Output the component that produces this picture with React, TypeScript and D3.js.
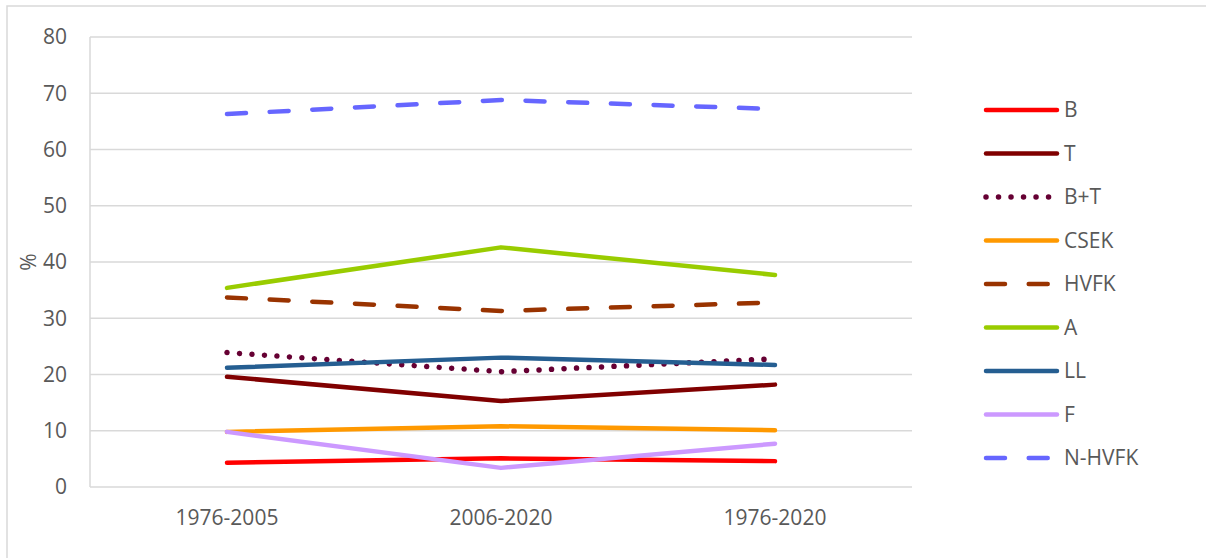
import React from "react";
import * as d3 from "d3";

const categories = ["1976-2005", "2006-2020", "1976-2020"];
const yTicks = [0, 10, 20, 30, 40, 50, 60, 70, 80];

const seriesNames = ["B", "T", "B+T", "CSEK", "HVFK", "A", "LL", "F", "N-HVFK"];
const valuesB = [4.3, 5.1, 4.6];
const valuesT = [19.6, 15.3, 18.2];
const valuesBT = [23.9, 20.5, 22.8];
const valuesCSEK = [9.8, 10.8, 10.1];
const valuesHVFK = [33.7, 31.3, 32.8];
const valuesA = [35.4, 42.6, 37.7];
const valuesLL = [21.2, 23.0, 21.7];
const valuesF = [9.8, 3.4, 7.7];
const valuesNHVFK = [66.3, 68.8, 67.2];

const seriesColors = ["#FF0000", "#800000", "#660033", "#FF9900", "#993300", "#99CC00", "#255E91", "#CC99FF", "#6666FF"];
const seriesStyles = ["solid", "solid", "dot", "solid", "dash", "solid", "solid", "solid", "dash"];

const allValues = [valuesB, valuesT, valuesBT, valuesCSEK, valuesHVFK, valuesA, valuesLL, valuesF, valuesNHVFK];
const drawOrder = [0, 1, 2, 3, 4, 5, 6, 7, 8];

const FONT = "'Open Sans', 'Noto Sans', sans-serif";
const TEXT = "#595959";
const GRID = "#D9D9D9";
const FS = 21;

const plotLeft = 90;
const plotRight = 912;
const plotTop = 37;
const plotBottom = 487;

function dashFor(style: string): string | undefined {
  if (style === "dash") return "19 23.7";
  if (style === "dot") return "0.01 12.5";
  return undefined;
}

export default function App() {
  const x = d3.scaleBand<string>().domain(categories).range([plotLeft, plotRight]);
  const y = d3.scaleLinear().domain([0, 80]).range([plotBottom, plotTop]);
  const cx = (c: string) => (x(c) as number) + x.bandwidth() / 2;
  const line = d3
    .line<number>()
    .x((_, i) => cx(categories[i]))
    .y((d) => y(d));

  const legendX1 = 986;
  const legendX2 = 1057;
  const legendY0 = 110;
  const legendStep = 43.5;

  return (
    <svg
      width={1206}
      height={558}
      style={{ position: "absolute", left: 0, top: 0, background: "#fff" }}
      fontFamily={FONT}
    >
      <rect x={0} y={0} width={1206} height={558} fill="#fff" />
      <rect x={7} y={6} width={1210} height={560} fill="none" stroke={GRID} strokeWidth={1.5} />
      {yTicks.map((t) => (
        <g key={t}>
          <line x1={plotLeft} x2={plotRight} y1={y(t)} y2={y(t)} stroke={GRID} strokeWidth={1.5} />
          <text x={67} y={y(t)} dy="0.35em" textAnchor="end" fontSize={FS} fill={TEXT}>
            {t}
          </text>
        </g>
      ))}
      <line x1={plotLeft} x2={plotLeft} y1={plotTop} y2={plotBottom} stroke={GRID} strokeWidth={1.5} />
      {categories.map((c) => (
        <text key={c} x={cx(c)} y={518} dy="0.35em" textAnchor="middle" fontSize={FS} fill={TEXT}>
          {c}
        </text>
      ))}
      <text
        transform={`translate(29,262) rotate(-90)`}
        textAnchor="middle"
        dy="0.35em"
        fontSize={FS}
        fill={TEXT}
      >
        %
      </text>
      {drawOrder.map((i) => (
        <path
          key={seriesNames[i]}
          d={line(allValues[i]) as string}
          fill="none"
          stroke={seriesColors[i]}
          strokeWidth={seriesStyles[i] === "dot" ? 5.5 : 4.5}
          strokeLinecap="round"
          strokeLinejoin="round"
          strokeDasharray={dashFor(seriesStyles[i])}
        />
      ))}
      {seriesNames.map((n, i) => {
        const ly = legendY0 + i * legendStep;
        return (
          <g key={n}>
            <line
              x1={legendX1}
              x2={legendX2}
              y1={ly}
              y2={ly}
              stroke={seriesColors[i]}
              strokeWidth={seriesStyles[i] === "dot" ? 5.5 : 4.5}
              strokeLinecap="round"
              strokeDasharray={dashFor(seriesStyles[i])}
            />
            <text x={1064} y={ly} dy="0.35em" fontSize={FS} fill={TEXT}>
              {n}
            </text>
          </g>
        );
      })}
    </svg>
  );
}
